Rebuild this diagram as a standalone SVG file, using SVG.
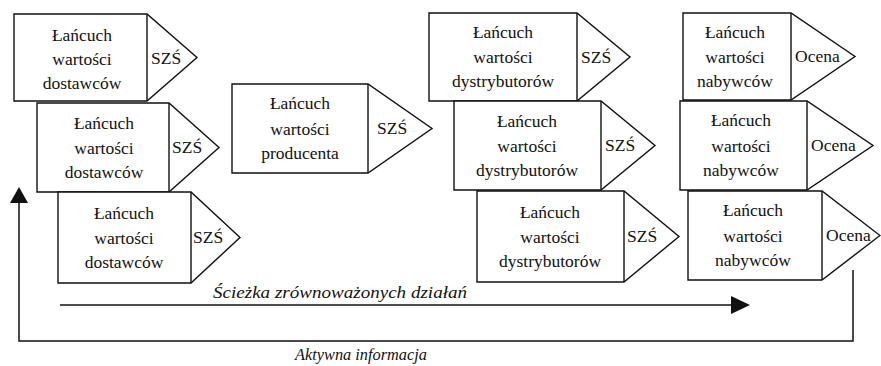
<svg xmlns="http://www.w3.org/2000/svg" width="881" height="366" viewBox="0 0 881 366">
<style>
.box{fill:#fff;stroke:#111;stroke-width:1.4;stroke-linejoin:miter}
.div{stroke:#111;stroke-width:1.4}
text{font-family:'Liberation Serif','Times New Roman',serif;font-size:17.5px;fill:#111}
.t{text-anchor:middle}
.it{font-style:italic;font-size:17px}
.ln{fill:none;stroke:#111;stroke-width:1.5}
.ah{fill:#111;stroke:none}
</style>
<rect width="881" height="366" fill="#fff"/>

<g id="dostawcy1">
<path class="box" d="M14,14 H147 L197,57.5 L147,101 H14 Z"/>
<line class="div" x1="147" y1="14" x2="147" y2="101"/>
<text class="t" x="82" y="41">Łańcuch</text>
<text class="t" x="82" y="65">wartości</text>
<text class="t" x="82" y="89">dostawców</text>
<text x="151" y="64">SZŚ</text>
</g>

<g id="dostawcy2">
<path class="box" d="M37,103 H169 L219,147.5 L169,192 H37 Z"/>
<line class="div" x1="169" y1="103" x2="169" y2="192"/>
<text class="t" x="104" y="129">Łańcuch</text>
<text class="t" x="104" y="154">wartości</text>
<text class="t" x="104" y="178">dostawców</text>
<text x="172" y="153">SZŚ</text>
</g>

<g id="dostawcy3">
<path class="box" d="M58,192 H191 L240,237.5 L191,283 H58 Z"/>
<line class="div" x1="191" y1="192" x2="191" y2="283"/>
<text class="t" x="124" y="219">Łańcuch</text>
<text class="t" x="124" y="244">wartości</text>
<text class="t" x="124" y="268">dostawców</text>
<text x="193" y="243">SZŚ</text>
</g>

<g id="producent">
<path class="box" d="M232,84 H368 L432,128.5 L368,173 H232 Z"/>
<line class="div" x1="368" y1="84" x2="368" y2="173"/>
<text class="t" x="300" y="109">Łańcuch</text>
<text class="t" x="300" y="135">wartości</text>
<text class="t" x="300" y="159">producenta</text>
<text x="377" y="134">SZŚ</text>
</g>

<g id="dystrybutorzy1">
<path class="box" d="M429,13 H577 L630,57 L577,101 H429 Z"/>
<line class="div" x1="577" y1="13" x2="577" y2="101"/>
<text class="t" x="503" y="38">Łańcuch</text>
<text class="t" x="503" y="63">wartości</text>
<text class="t" x="503" y="87">dystrybutorów</text>
<text x="581" y="63">SZŚ</text>
</g>

<g id="dystrybutorzy2">
<path class="box" d="M454,101 H601 L655,145.5 L601,190 H454 Z"/>
<line class="div" x1="601" y1="101" x2="601" y2="190"/>
<text class="t" x="527" y="127">Łańcuch</text>
<text class="t" x="527" y="152">wartości</text>
<text class="t" x="527" y="176">dystrybutorów</text>
<text x="605" y="151">SZŚ</text>
</g>

<g id="dystrybutorzy3">
<path class="box" d="M477,191 H624 L679,236.5 L624,282 H477 Z"/>
<line class="div" x1="624" y1="191" x2="624" y2="282"/>
<text class="t" x="550" y="218">Łańcuch</text>
<text class="t" x="550" y="243">wartości</text>
<text class="t" x="550" y="267">dystrybutorów</text>
<text x="627" y="242">SZŚ</text>
</g>

<g id="nabywcy1">
<path class="box" d="M683,13 H791 L855,56.5 L791,100 H683 Z"/>
<line class="div" x1="791" y1="13" x2="791" y2="100"/>
<text class="t" x="735" y="38">Łańcuch</text>
<text class="t" x="735" y="63">wartości</text>
<text class="t" x="735" y="87">nabywców</text>
<text x="795" y="62">Ocena</text>
</g>

<g id="nabywcy2">
<path class="box" d="M680,101 H807 L873,145.5 L807,190 H680 Z"/>
<line class="div" x1="807" y1="101" x2="807" y2="190"/>
<text class="t" x="741" y="126">Łańcuch</text>
<text class="t" x="741" y="152">wartości</text>
<text class="t" x="741" y="176">nabywców</text>
<text x="811" y="151">Ocena</text>
</g>

<g id="nabywcy3">
<path class="box" d="M688,191 H822 L880,235.5 L822,280 H688 Z"/>
<line class="div" x1="822" y1="191" x2="822" y2="280"/>
<text class="t" x="753" y="216">Łańcuch</text>
<text class="t" x="753" y="242">wartości</text>
<text class="t" x="753" y="266">nabywców</text>
<text x="826" y="241">Ocena</text>
</g>

<g id="connectors">
<path class="ln" d="M853,270 V341 H19 V202"/>
<polygon class="ah" points="10,203 28,203 19,187"/>
<line class="ln" x1="60" y1="305" x2="732" y2="305"/>
<polygon class="ah" points="731,296 750,305 731,314"/>
</g>

<text class="it" x="213" y="298" textLength="254" lengthAdjust="spacingAndGlyphs">Ścieżka zrównoważonych działań</text>
<text class="it" x="295" y="360" textLength="132" lengthAdjust="spacingAndGlyphs">Aktywna informacja</text>
</svg>
